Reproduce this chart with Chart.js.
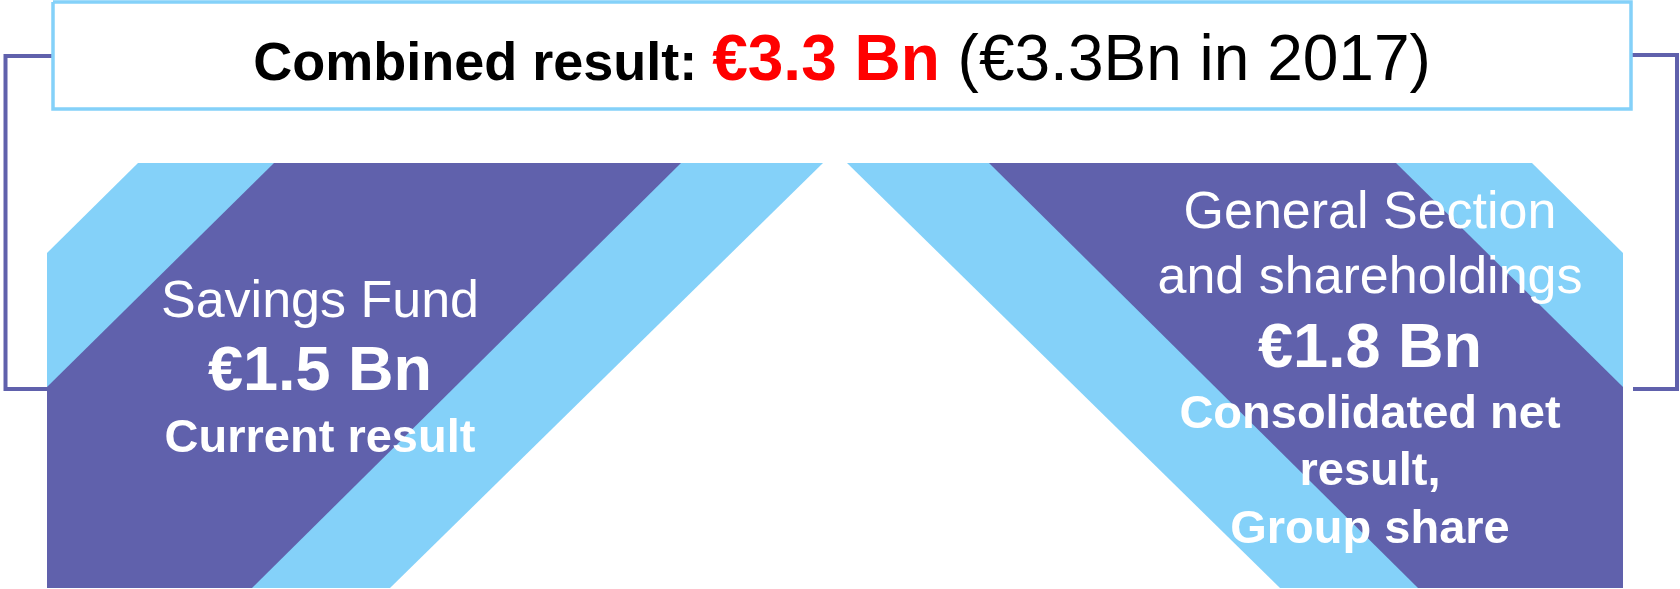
<!DOCTYPE html>
<html>
<head>
<meta charset="utf-8">
<script src="https://cdn.jsdelivr.net/npm/chart.js@4.4.1/dist/chart.umd.min.js"></script>
<style>
  html, body { margin: 0; padding: 0; background: #fff; }
  #wrap { width: 1680px; height: 589px; position: relative; }
</style>
</head>
<body>
<div id="wrap"><canvas id="chart"></canvas></div>
<script>
// Values shown in the graphic
const combinedValue = 3.3;
const priorValue = 3.3;
const priorYear = 2017;
const segmentNames = [['Savings Fund'], ['General Section', 'and shareholdings']];
const segmentValues = [1.5, 1.8];
const segmentNotes = [['Current result'], ['Consolidated net', 'result,', 'Group share']];

// Layout of the banner shapes (drawing units = pixels of the 1680x589 page)
const leftOuter = [[138, 163], [823, 163], [390, 588], [47, 588], [47, 253]];
const leftBand = [[274, 163], [681, 163], [252, 588], [47, 588], [47, 387]];
const rightOuter = [[1532, 163], [847, 163], [1280, 588], [1623, 588], [1623, 253]];
const rightBand = [[1396, 163], [989, 163], [1418, 588], [1623, 588], [1623, 387]];
const titleBox = [[53, 2], [1631, 2], [1631, 109], [53, 109]];
const leftBracket = [[53, 56], [5.5, 56], [5.5, 389], [47, 389]];
const rightBracket = [[1631, 55], [1677, 55], [1677, 389], [1633, 389]];

const LIGHT = '#84D1F9';
const PURPLE = '#6061AC';
const FONT = '"Liberation Sans", Arial, sans-serif';

function fmt(v) {
    return '€' + v.toFixed(1) + ' Bn';
}

function toPoints(arr, close) {
    const pts = arr.map(p => ({ x: p[0], y: p[1] }));
    if (close) pts.push({ x: arr[0][0], y: arr[0][1] });
    return pts;
}

function polygon(arr, color, order) {
    return {
        data: toPoints(arr, true),
        showLine: true,
        fill: 'shape',
        backgroundColor: color,
        borderColor: color,
        borderWidth: 0,
        pointRadius: 0,
        tension: 0,
        order: order
    };
}

function pathLine(arr, color, width, order) {
    return {
        data: toPoints(arr, false),
        showLine: true,
        fill: false,
        borderColor: color,
        borderWidth: width,
        pointRadius: 0,
        tension: 0,
        order: order
    };
}

// Text blocks: centre x and baselines for each line
const textLayout = [
    { x: 320, lines: [
        { text: segmentNames[0][0], y: 317, size: 52, bold: false },
        { text: fmt(segmentValues[0]), y: 390, size: 63, bold: true },
        { text: segmentNotes[0][0], y: 452, size: 47, bold: true }
    ]},
    { x: 1370, lines: [
        { text: segmentNames[1][0], y: 228, size: 52, bold: false },
        { text: segmentNames[1][1], y: 293, size: 52, bold: false },
        { text: fmt(segmentValues[1]), y: 367, size: 63, bold: true },
        { text: segmentNotes[1][0], y: 428, size: 47, bold: true },
        { text: segmentNotes[1][1], y: 485, size: 47, bold: true },
        { text: segmentNotes[1][2], y: 543, size: 47, bold: true }
    ]}
];

const textPlugin = {
    id: 'infoText',
    afterDatasetsDraw(chart) {
        const ctx = chart.ctx;
        const xs = chart.scales.x;
        const ys = chart.scales.y;
        ctx.save();
        ctx.textBaseline = 'alphabetic';

        // Title: three runs centred in the box
        const runs = [
            { text: 'Combined result: ', font: 'bold 54px ' + FONT, color: '#000' },
            { text: fmt(combinedValue), font: 'bold 64px ' + FONT, color: '#FF0000' },
            { text: ' (€' + priorValue.toFixed(1) + 'Bn in ' + priorYear + ')', font: '64px ' + FONT, color: '#000' }
        ];
        let total = 0;
        runs.forEach(r => { ctx.font = r.font; r.w = ctx.measureText(r.text).width; total += r.w; });
        let cx = xs.getPixelForValue((titleBox[0][0] + titleBox[1][0]) / 2) - total / 2;
        const ty = ys.getPixelForValue(80);
        ctx.textAlign = 'left';
        runs.forEach(r => {
            ctx.font = r.font;
            ctx.fillStyle = r.color;
            ctx.fillText(r.text, cx, ty);
            cx += r.w;
        });

        // Segment labels
        ctx.textAlign = 'center';
        ctx.fillStyle = '#fff';
        textLayout.forEach(block => {
            const px = xs.getPixelForValue(block.x);
            block.lines.forEach(l => {
                ctx.font = (l.bold ? 'bold ' : '') + l.size + 'px ' + FONT;
                ctx.fillText(l.text, px, ys.getPixelForValue(l.y));
            });
        });
        ctx.restore();
    }
};

window.addEventListener('DOMContentLoaded', () => {
    const ctx = document.getElementById('chart').getContext('2d');
    new Chart(ctx, {
        type: 'scatter',
        data: {
            datasets: [
                polygon(leftOuter, LIGHT, 5),
                polygon(rightOuter, LIGHT, 5),
                polygon(leftBand, PURPLE, 4),
                polygon(rightBand, PURPLE, 4),
                pathLine(leftBracket, PURPLE, 4, 3),
                pathLine(rightBracket, PURPLE, 4, 3),
                Object.assign(polygon(titleBox, '#fff', 2), { borderColor: LIGHT, borderWidth: 3.5 })
            ]
        },
        options: {
            responsive: true,
            maintainAspectRatio: false,
            animation: false,
            events: [],
            layout: { padding: 0 },
            scales: {
                x: { type: 'linear', min: 0, max: 1680, display: false },
                y: { type: 'linear', min: 0, max: 589, reverse: true, display: false }
            },
            plugins: {
                legend: { display: false },
                tooltip: { enabled: false }
            }
        },
        plugins: [textPlugin]
    });
});
</script>
</body>
</html>
